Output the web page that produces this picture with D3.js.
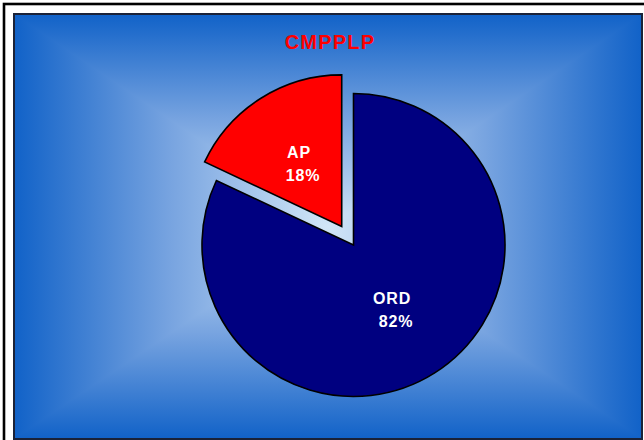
<!DOCTYPE html>
<html><head><meta charset="utf-8">
<script src="https://cdn.jsdelivr.net/npm/d3@7"></script>
<style>html,body{margin:0;padding:0;background:#fff;}svg{display:block;}</style>
</head><body>
<script>
const title = "CMPPLP";
const categories = ["ORD", "AP"];
const values = [82, 18];
const colors = ["#000080", "#ff0000"];
const exploded = [0, 22];

const W = 644, H = 440;
const svg = d3.select("body").append("svg").attr("width", W).attr("height", H);
const defs = svg.append("defs");

// outer frame
svg.append("rect").attr("x", 4).attr("y", 4).attr("width", 700).attr("height", 500)
  .attr("fill", "#fff").attr("stroke", "#000").attr("stroke-width", 2.6);

// inner plot area with rectangular "from center" gradient
const px = 14, py = 14, pw = 628, ph = 425;
const cx = px + pw / 2, cy = py + ph / 2;
const edge = "#1162c8", mid = "#78a4e0", center = "#d2e6f7";
function grad(id, x1, y1, x2, y2) {
  const g = defs.append("linearGradient").attr("id", id).attr("gradientUnits", "userSpaceOnUse")
    .attr("x1", x1).attr("y1", y1).attr("x2", x2).attr("y2", y2);
  [[0, edge], [0.25, mid], [0.5, center], [0.75, mid], [1, edge]].forEach(s =>
    g.append("stop").attr("offset", s[0]).attr("stop-color", s[1]));
}
grad("gV", 0, py, 0, py + ph);
grad("gH", px, 0, px + pw, 0);
const bg = svg.append("g");
const L = px, R = px + pw, T = py, B = py + ph;
bg.append("rect").attr("x", L).attr("y", T).attr("width", pw).attr("height", ph).attr("fill", "url(#gV)");
const tri = (pts, f) => bg.append("path").attr("d", "M" + pts.map(p => p.join(",")).join("L") + "Z")
  .attr("fill", f);
tri([[L, T], [L, B], [cx, cy]], "url(#gH)");
tri([[R, T], [R, B], [cx, cy]], "url(#gH)");
svg.append("rect").attr("x", px).attr("y", py).attr("width", pw).attr("height", ph)
  .attr("fill", "none").attr("stroke", "#1a2238").attr("stroke-width", 2);

// title
svg.append("text").attr("x", 330).attr("y", 49).attr("text-anchor", "middle")
  .attr("font-family", "Liberation Sans, Arial, sans-serif").attr("font-weight", "bold")
  .attr("font-size", 20).attr("letter-spacing", 1.2).attr("fill", "#ff0000").text(title);

// pie
const pcx = 353.5, pcy = 245, r = 151.5;
const pie = d3.pie().sort(null).value(d => d)(values);
const arc = d3.arc().innerRadius(0).outerRadius(r);
const g = svg.append("g").attr("transform", `translate(${pcx},${pcy})`);
const slices = g.selectAll("g.slice").data(pie).join("g").attr("class", "slice")
  .attr("transform", (d, i) => {
    const a = (d.startAngle + d.endAngle) / 2;
    return `translate(${Math.sin(a) * exploded[i]},${-Math.cos(a) * exploded[i]})`;
  });
slices.append("path").attr("d", arc).attr("fill", (d, i) => colors[i])
  .attr("stroke", "#000").attr("stroke-width", 1.6).attr("stroke-linejoin", "miter");
const lab = slices.append("text")
  .attr("transform", d => `translate(${arc.centroid(d)})`)
  .attr("text-anchor", "middle").attr("fill", "#fff")
  .attr("font-family", "Liberation Sans, Arial, sans-serif").attr("font-weight", "bold")
  .attr("font-size", 16).attr("letter-spacing", 0.9);
lab.append("tspan").attr("x", -2).attr("dy", "-0.3em").text((d, i) => categories[i]);
lab.append("tspan").attr("x", 2).attr("dy", "1.45em").text(d => Math.round(d.value) + "%");
</script>
</body></html>
